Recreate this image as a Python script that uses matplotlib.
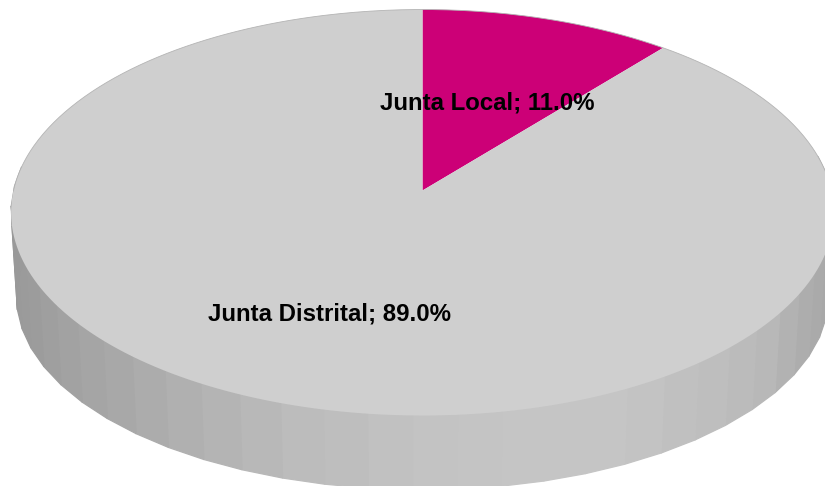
import numpy as np
import matplotlib
matplotlib.use("Agg")
import matplotlib.pyplot as plt
from matplotlib.patches import Polygon

categories = ["Junta Local", "Junta Distrital"]
values = [11.0, 89.0]
colors = ["#cc0077", "#cfcfcf"]
label_pos = [(487.5, 102.5), (329.5, 313.5)]

# side wall shade, x position on screen -> grey level
shade_x = [11, 60, 120, 200, 280, 422, 600, 700, 770, 825]
shade_grey = [0.60, 0.63, 0.66, 0.70, 0.73, 0.765, 0.775, 0.75, 0.72, 0.66]

# perspective of the disc
PERSP = 0.1084


def project(theta, cx, cy, a, b):
    # theta is clockwise from 12 o'clock, in radians
    x = np.sin(theta)
    y = np.cos(theta)
    w = 1 + PERSP * y
    return np.column_stack([cx + a * x / w, cy - b * y / w])


fig = plt.figure(figsize=(8.25, 4.86), dpi=100)
ax = fig.add_axes([0, 0, 1, 1])
ax.set_xlim(0, 825)
ax.set_ylim(486, 0)
ax.axis("off")

top = dict(cx=422.5, cy=190.5, a=409.0, b=200.6)
bottom = dict(cx=422.5, cy=276, a=403.6, b=190.7)

# side wall, the facets of the front half
edges = np.radians(np.arange(80, 281, 5.625))
top_pts = project(edges, **top)
bot_pts = project(edges, **bottom)
for i in range(len(edges) - 1):
    quad = [top_pts[i], top_pts[i + 1], bot_pts[i + 1], bot_pts[i]]
    mid = (top_pts[i][0] + top_pts[i + 1][0]) / 2
    grey = str(np.interp(mid, shade_x, shade_grey))
    ax.add_patch(Polygon(quad, closed=True, facecolor=grey, edgecolor=grey, linewidth=0.9))

# top face
start = 0.0
for name, val, col in zip(categories, values, colors):
    sweep = val / sum(values) * 2 * np.pi
    arc = project(np.linspace(start, start + sweep, 240), **top)
    apex = np.array([[top["cx"], top["cy"]]])
    ax.add_patch(Polygon(np.vstack([apex, arc]), closed=True, facecolor=col, edgecolor="none", zorder=3))
    start += sweep

# thin outline, back half of the rim only
rim = project(np.radians(np.linspace(-90, 90, 300)), **top)
ax.plot(rim[:, 0], rim[:, 1], color="#b4b4b4", lw=0.6, zorder=4)

for name, val, pos in zip(categories, values, label_pos):
    ax.text(pos[0], pos[1], f"{name}; {val:.1f}%", ha="center", va="center",
            family="Liberation Sans", fontweight="bold", fontsize=17.3, color="black", zorder=5)

fig.savefig("out.png", dpi=100)
